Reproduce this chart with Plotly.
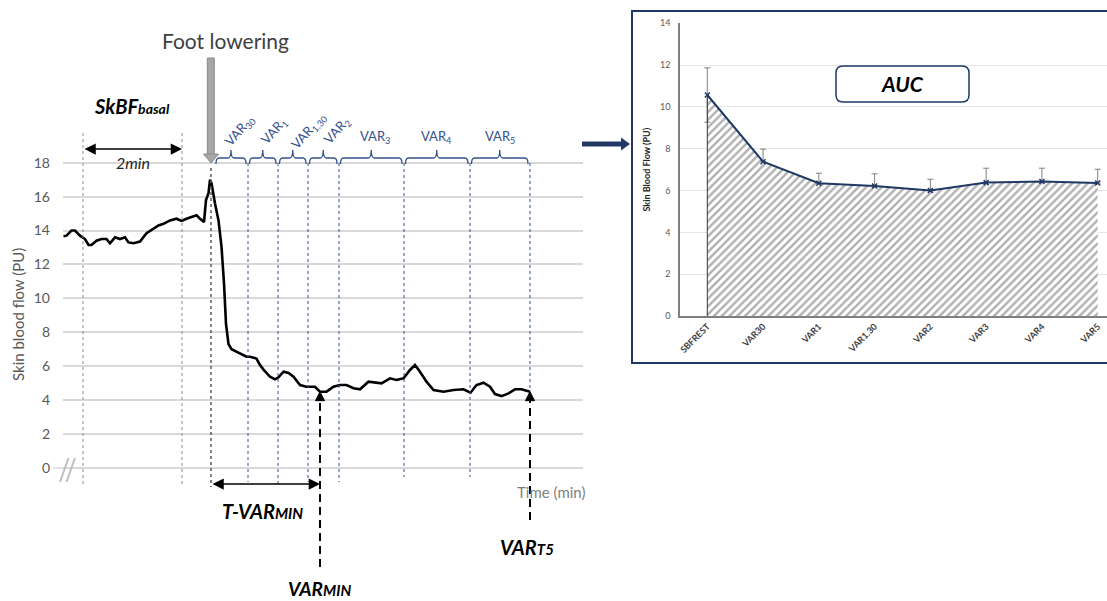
import plotly.graph_objects as go

W, H = 1107, 601

# ---------------- DATA ----------------
# Left panel: skin blood flow trace, time in minutes relative to foot lowering
time_min = [-2.95, -2.89, -2.79, -2.72, -2.62, -2.52, -2.45, -2.39, -2.29, -2.19, -2.09, -2.02,
            -1.92, -1.82, -1.72, -1.65, -1.55, -1.42, -1.29, -1.15, -1.05, -0.95, -0.82, -0.69,
            -0.59, -0.49, -0.39, -0.29, -0.22, -0.14, -0.10, -0.05, -0.02, 0.01, 0.08, 0.15,
            0.21, 0.26, 0.30, 0.35, 0.41, 0.51, 0.61, 0.71, 0.78, 0.91, 0.98, 1.05, 1.18, 1.28,
            1.35, 1.45, 1.55, 1.65, 1.78, 1.91, 2.08, 2.18, 2.31, 2.45, 2.58, 2.71, 2.85, 2.98,
            3.15, 3.28, 3.41, 3.58, 3.71, 3.85, 3.98, 4.08, 4.18, 4.31, 4.45, 4.65, 4.85, 5.05,
            5.19, 5.31, 5.45, 5.58, 5.68, 5.81, 5.95, 6.08, 6.21, 6.38]
skbf_pu = [13.66, 13.7, 14.0, 14.0, 13.7, 13.5, 13.15, 13.15, 13.4, 13.5, 13.5, 13.25,
           13.6, 13.5, 13.6, 13.3, 13.25, 13.35, 13.85, 14.13, 14.3, 14.4, 14.6, 14.7,
           14.57, 14.7, 14.8, 14.9, 14.7, 14.5, 15.8, 16.2, 17.0, 16.8, 15.6, 14.6,
           13.05, 10.9, 8.5, 7.3, 7.0, 6.86, 6.72, 6.56, 6.56, 6.45, 6.07, 5.8, 5.38, 5.23,
           5.35, 5.68, 5.6, 5.38, 4.89, 4.79, 4.79, 4.5, 4.5, 4.79, 4.89, 4.89, 4.7, 4.64,
           5.09, 5.03, 4.99, 5.29, 5.19, 5.29, 5.78, 6.07, 5.68, 5.09, 4.6, 4.5, 4.6, 4.64,
           4.44, 4.89, 5.03, 4.79, 4.36, 4.24, 4.4, 4.64, 4.64, 4.5]
y_ticks = [0, 2, 4, 6, 8, 10, 12, 14, 16, 18]

basal_window = [-2.56, -0.58]          # 2-min basal window (min)
foot_lowering_t = 0.0
var_bounds = [0.74, 1.34, 1.94, 2.56, 3.86, 5.18, 6.38]
var_labels = ["VAR<sub>30</sub>", "VAR<sub>1</sub>", "VAR<sub>1.30</sub>", "VAR<sub>2</sub>",
              "VAR<sub>3</sub>", "VAR<sub>4</sub>", "VAR<sub>5</sub>"]
varmin_t, varmin_v = 2.18, 4.5
vart5_t, vart5_v = 6.38, 4.5

# Right panel: mean skin blood flow per period (AUC)
auc_categories = ["SBFREST", "VAR30", "VAR1", "VAR1.30", "VAR2", "VAR3", "VAR4", "VAR5"]
auc_means = [10.57, 7.38, 6.35, 6.22, 6.0, 6.38, 6.43, 6.36]
auc_err_plus = [1.3, 0.6, 0.48, 0.58, 0.54, 0.69, 0.64, 0.66]
auc_err_minus = [1.3, 0, 0, 0, 0, 0, 0, 0]

# ---------------- LAYOUT HELPERS ----------------
T0_PX, PX_PER_MIN = 211, 50.0
Y0_PX, PX_PER_PU = 468, 16.96
def tx(p):  # pixel x -> minutes
    return (p - T0_PX) / PX_PER_MIN
def vy(p):  # pixel y -> PU
    return (Y0_PX - p) / PX_PER_PU
def px(p):
    return p / W
def py(p):
    return 1 - p / H

FONT = "Lato, 'Open Sans', sans-serif"
BLUE = "#34508F"
NAVY = "#1F3864"

def note(x, y, text, size, color="black", angle=0, xref="paper", yref="paper"):
    return dict(xref=xref, yref=yref, x=x, y=y, text=text, showarrow=False,
                xanchor="center", yanchor="middle", textangle=angle,
                font=dict(family=FONT, size=size, color=color))

fig = go.Figure()

fig.add_trace(go.Scatter(x=time_min, y=skbf_pu, mode="lines",
                         line=dict(color="black", width=2.6),
                         xaxis="x", yaxis="y", showlegend=False, hoverinfo="skip"))

fig.add_trace(go.Scatter(x=list(range(len(auc_categories))), y=auc_means,
                         mode="lines+markers",
                         line=dict(color=NAVY, width=2),
                         marker=dict(symbol="x-thin", size=5, line=dict(color=NAVY, width=1.5)),
                         fill="tozeroy",
                         fillpattern=dict(shape="/", fgcolor="#5e5e5e", bgcolor="white",
                                          size=5.5, solidity=0.42),
                         error_y=dict(type="data", array=auc_err_plus, arrayminus=auc_err_minus,
                                      color="#808080", thickness=1, width=3),
                         xaxis="x2", yaxis="y2", showlegend=False, hoverinfo="skip"))

shapes = []
annotations = []

# basal window lines
for t in basal_window:
    shapes.append(dict(type="line", xref="x", yref="y", x0=t, x1=t, y0=vy(133), y1=vy(487),
                       line=dict(color="#8c8c8c", width=1, dash="3px,3px")))
# foot lowering line
shapes.append(dict(type="line", xref="x", yref="y", x0=foot_lowering_t, x1=foot_lowering_t,
                   y0=vy(168), y1=vy(487), line=dict(color="#595959", width=1.5, dash="3px,3px")))
# var boundaries
bottoms = [482, 486, 482, 482, 477, 477]
for i, b in enumerate(var_bounds):
    y_bot = vy(bottoms[i]) if i < len(bottoms) else vart5_v + 0.2
    shapes.append(dict(type="line", xref="x", yref="y", x0=b, x1=b, y0=vy(163), y1=y_bot,
                       line=dict(color=BLUE, width=1, dash="3px,3px")))

# brackets
ylow, ymid, ytop = vy(164), vy(158), vy(150)
r = tx(T0_PX + 3)
prev = foot_lowering_t + tx(T0_PX + 5)
label_dx = [8.5, 11.5, 16, 13.5, 4, 0, 0]
for i, b in enumerate(var_bounds):
    x0 = prev + (0 if i == 0 else tx(T0_PX + 1.5))
    x1 = b - tx(T0_PX + 2)
    xm = (x0 + x1) / 2
    path = (f"M {x0},{ylow} Q {x0},{ymid} {x0 + r},{ymid} L {xm - r},{ymid} "
            f"Q {xm},{ymid} {xm},{ytop} Q {xm},{ymid} {xm + r},{ymid} "
            f"L {x1 - r},{ymid} Q {x1},{ymid} {x1},{ylow}")
    shapes.append(dict(type="path", xref="x", yref="y", path=path,
                       line=dict(color=BLUE, width=1.3)))
    rotated = i < 4
    annotations.append(note(xm + tx(T0_PX + label_dx[i]), vy(131 if rotated else 137),
                            var_labels[i], 13, BLUE, -48 if rotated else 0, "x", "y"))
    prev = b

# Foot lowering arrow (gray thick)
shapes.append(dict(type="rect", xref="paper", yref="paper", x0=px(207.3), x1=px(214.3),
                   y0=py(58), y1=py(155), fillcolor="#a6a6a6", line=dict(color="#8c8c8c", width=1)))
shapes.append(dict(type="path", xref="paper", yref="paper",
                   path=f"M {px(203.5)},{py(154)} L {px(218.5)},{py(154)} L {px(211)},{py(163)} Z",
                   fillcolor="#a6a6a6", line=dict(color="#8c8c8c", width=1)))
annotations.append(note(px(225), py(41), "Foot lowering", 21, "#404040"))

# 2min arrow
annotations.append(dict(xref="x", yref="y", axref="x", ayref="y",
                        x=basal_window[1], y=vy(149), ax=basal_window[0], ay=vy(149),
                        text="", showarrow=True, arrowside="end+start", arrowhead=2,
                        arrowsize=1.5, arrowwidth=1.5, arrowcolor="black"))
annotations.append(note(px(133), py(162), "<i>2min</i>", 16, "#262626"))
annotations.append(note(px(132), py(106),
                        "<b><i>SkBF<span style='font-size:14px'>basal</span></i></b>", 20))

# T-VARmin arrow
annotations.append(dict(xref="x", yref="y", axref="x", ayref="y",
                        x=varmin_t, y=vy(484), ax=foot_lowering_t, ay=vy(484),
                        text="", showarrow=True, arrowside="end+start", arrowhead=2,
                        arrowsize=1.5, arrowwidth=1.5, arrowcolor="black"))
annotations.append(note(px(262), py(511),
                        "<b><i>T-VAR<span style='font-size:15px'>MIN</span></i></b>", 20))

# dashed vertical arrows VARmin and VART5
head_h = 9 / PX_PER_PU
head_w = 4.5 / PX_PER_MIN
for (t, v, ybot) in [(varmin_t, varmin_v, 567), (vart5_t, vart5_v, 520)]:
    shapes.append(dict(type="line", xref="x", yref="y", x0=t, x1=t, y0=vy(ybot), y1=v - head_h,
                       line=dict(color="black", width=2, dash="8px,5px")))
    shapes.append(dict(type="path", xref="x", yref="y",
                       path=f"M {t - head_w},{v - head_h} L {t + head_w},{v - head_h} L {t},{v} Z",
                       fillcolor="black", line=dict(color="black", width=1)))
annotations.append(note(px(319), py(588),
                        "<b><i>VAR<span style='font-size:15px'>MIN</span></i></b>", 19))
annotations.append(note(px(527), py(547),
                        "<b><i>VAR<span style='font-size:15px'>T5</span></i></b>", 20))
annotations.append(note(px(551), py(492), "Time (min)", 15, "#7f7f7f"))
annotations.append(note(px(18), py(315), "Skin blood flow (PU)", 15, "#595959", -90))

# axis break marks
shapes.append(dict(type="line", xref="paper", yref="paper", x0=px(53), x1=px(63), y0=py(468),
                   y1=py(468), line=dict(color="#d9d9d9", width=1.5)))
for dx in (0, 6.5):
    shapes.append(dict(type="line", xref="paper", yref="paper", x0=px(60 + dx), x1=px(68.5 + dx),
                       y0=py(482), y1=py(458), line=dict(color="#bfbfbf", width=2)))

# Navy arrow to inset
shapes.append(dict(type="rect", xref="paper", yref="paper", x0=px(582), x1=px(622),
                   y0=py(141.5), y1=py(146.5), fillcolor=NAVY, line=dict(width=0)))
shapes.append(dict(type="path", xref="paper", yref="paper",
                   path=f"M {px(621)},{py(137.5)} L {px(621)},{py(150.5)} L {px(630)},{py(144)} Z",
                   fillcolor=NAVY, line=dict(width=0)))

# Inset frame
shapes.append(dict(type="rect", xref="paper", yref="paper", x0=px(632), x1=px(1112),
                   y0=py(363), y1=py(11), line=dict(color=NAVY, width=2)))
# inset fill edge at first category
shapes.append(dict(type="line", xref="x2", yref="y2", x0=0, x1=0, y0=0, y1=auc_means[0],
                   line=dict(color=NAVY, width=1)))
# AUC rounded box
bx0, bx1, by0, by1, rr = 836, 969, 66, 102, 7
path = (f"M {px(bx0 + rr)},{py(by0)} L {px(bx1 - rr)},{py(by0)} Q {px(bx1)},{py(by0)} {px(bx1)},{py(by0 + rr)} "
        f"L {px(bx1)},{py(by1 - rr)} Q {px(bx1)},{py(by1)} {px(bx1 - rr)},{py(by1)} "
        f"L {px(bx0 + rr)},{py(by1)} Q {px(bx0)},{py(by1)} {px(bx0)},{py(by1 - rr)} "
        f"L {px(bx0)},{py(by0 + rr)} Q {px(bx0)},{py(by0)} {px(bx0 + rr)},{py(by0)} Z")
shapes.append(dict(type="path", xref="paper", yref="paper", path=path,
                   fillcolor="white", line=dict(color=NAVY, width=1.5)))
annotations.append(note(px(902), py(84), "<b><i>AUC</i></b>", 21))

cat_px = [707.3, 1097.7]
step = (cat_px[1] - cat_px[0]) / (len(auc_categories) - 1)
x2_range = [(680 - cat_px[0]) / step, (len(auc_categories) - 1) + (W - cat_px[1]) / step]

fig.update_layout(
    width=W, height=H,
    margin=dict(l=0, r=0, t=0, b=0, autoexpand=False),
    paper_bgcolor="white", plot_bgcolor="white",
    showlegend=False,
    font=dict(family=FONT),
    xaxis=dict(domain=[px(63), px(583)], range=[tx(63), tx(583)], showgrid=False,
               showticklabels=False, zeroline=False, showline=False, anchor="y"),
    yaxis=dict(domain=[0, 1], range=[vy(601), vy(0)], tickvals=y_ticks,
               showgrid=True, gridcolor="#d9d9d9", gridwidth=1.5, zeroline=False,
               showline=False, ticks="", ticklabelstandoff=12,
               tickfont=dict(family=FONT, size=14, color="#595959"), anchor="x"),
    xaxis2=dict(domain=[px(680), 1.0], range=x2_range,
                tickvals=list(range(len(auc_categories))),
                ticktext=[f"<b>{c}</b>" for c in auc_categories], tickangle=-45,
                tickfont=dict(family=FONT, size=9, color="#404040"),
                showgrid=False, zeroline=False, showline=True, linecolor="#7f7f7f",
                linewidth=1.5, ticks="", anchor="y2"),
    yaxis2=dict(domain=[py(316), py(23.3)], range=[0, 14], dtick=2,
                showgrid=True, gridcolor="#e6e6e6", gridwidth=1, zeroline=False,
                showline=True, linecolor="#7f7f7f", linewidth=1.5, ticks="",
                ticklabelstandoff=6,
                tickfont=dict(family=FONT, size=9, color="#595959"),
                title=dict(text="<b>Skin Blood Flow (PU)</b>", standoff=8,
                           font=dict(family=FONT, size=9, color="#262626")),
                anchor="x2"),
    shapes=shapes,
    annotations=annotations,
)

fig.write_html("out.html", config={"displayModeBar": False},
               post_script="document.body.style.margin='0';document.body.style.overflow='hidden';")
